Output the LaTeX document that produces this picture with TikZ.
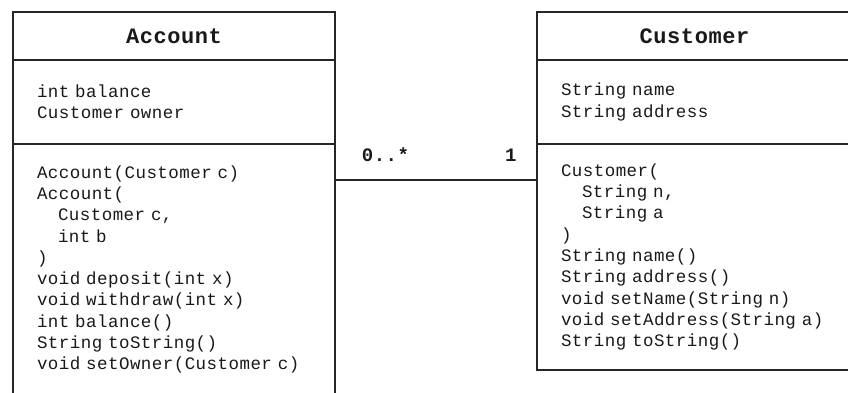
\documentclass[tikz,border=0pt]{standalone}
\usepackage{fontspec}
\setmonofont[LetterSpace=2.6]{Liberation Mono}
\usetikzlibrary{positioning}
\newcommand{\argindent}{\hspace*{21pt}}
\newcommand{\memberfont}{\ttfamily\fontsize{17.5}{21.3}\selectfont}

\begin{document}
\begin{tikzpicture}[
    x=1pt, y=1pt,
    classhead/.style={rectangle, draw=black!85, line width=2pt, outer sep=0pt,
        minimum height=48pt, align=center, text=black!90,
        font=\ttfamily\bfseries\fontsize{22}{26}\selectfont},
    members/.style={rectangle, draw=black!85, line width=2pt, outer sep=0pt,
        inner xsep=24pt, align=left, text=black!90, font=\memberfont},
    assoc/.style={line width=2pt, black!85},
    mult/.style={font=\ttfamily\bfseries\fontsize{19}{22}\selectfont, text=black!90}
]
\useasboundingbox (0,0) rectangle (848,-392);
\node[classhead, minimum width=322pt, anchor=north west] (accounthead) at (13,-12) {Account};
\node[members, text width=274pt, minimum height=84pt, below=0pt of accounthead] (accountattrs)
    {int balance\\Customer owner};
\node[members, text width=274pt, minimum height=251pt, below=0pt of accountattrs] (accountops)
    {Account(Customer c)\\Account(\\\argindent Customer c,\\\argindent int b\\)\\void deposit(int x)\\void withdraw(int x)\\int balance()\\String toString()\\void setOwner(Customer c)};
\node[classhead, minimum width=315pt, right=202pt of accounthead] (customerhead) {Customer};
\node[members, text width=267pt, minimum height=84pt, below=0pt of customerhead] (customerattrs)
    {String name\\String address};
\node[members, text width=267pt, minimum height=226pt, below=0pt of customerattrs] (customerops)
    {Customer(\\\argindent String n,\\\argindent String a\\)\\String name()\\String address()\\void setName(String n)\\void setAddress(String a)\\String toString()};
\draw[assoc] ([yshift=-36pt]accountops.north east) -- ([yshift=-36pt]customerops.north west)
    node[mult, pos=0.25, yshift=25pt] {0..*}
    node[mult, pos=0.87, yshift=25pt] {1};
\end{tikzpicture}
\end{document}
